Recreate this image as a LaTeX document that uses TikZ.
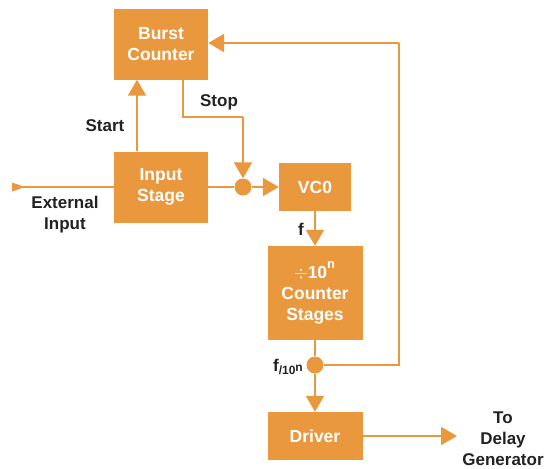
\documentclass[tikz,border=0pt]{standalone}
\usepackage{fontspec}
\setmainfont{Liberation Sans}
\usetikzlibrary{arrows.meta}
\definecolor{org}{HTML}{EA983E}
\definecolor{txt}{HTML}{222222}
\begin{document}
\begin{tikzpicture}[x=1pt,y=-1pt,
  blk/.style={fill=org,draw=none,text=white,font=\fontsize{17.5}{21}\selectfont\bfseries,align=center,inner sep=0pt},
  lbl/.style={text=txt,font=\fontsize{17}{21}\selectfont\bfseries,align=center,inner sep=0pt},
  wire/.style={draw=org,line width=2pt},
  arr/.style={wire,-{Triangle[length=16pt,width=18pt]}},
  dot/.style={circle,fill=org,minimum size=17pt,inner sep=0pt}]
\useasboundingbox (0,0) rectangle (555,469);
\node[blk,minimum width=94pt,minimum height=71pt] (burst) at (161,44) {Burst\\Counter};
\node[blk,minimum width=94pt,minimum height=71pt] (input) at (161,187) {Input\\Stage};
\node[blk,minimum width=72pt,minimum height=48pt] (vco) at (315,187) {VC0};
\node[blk,minimum width=95pt,minimum height=94pt] (cnt) at (315,293) {$\div$10$^{\raisebox{4pt}{\fontsize{13}{13}\selectfont n}}$\\Counter\\Stages};
\node[blk,minimum width=95pt,minimum height=48pt] (drv) at (315,436) {Driver};
\node[dot] (j1) at (243,187) {};
\node[dot] (j2) at (315,365) {};
\coordinate (ext) at (13,187);
\coordinate (c1) at (183,117);
\coordinate (c2) at (243,117);
\coordinate (c3) at (399,365);
\coordinate (c4) at (399,43);
\coordinate (out) at (457,436);
% external input
\draw[wire] (ext) -- (input.west);
\fill[org] (12,182.5) -- (25,187) -- (12,191.5) -- cycle;
% start
\draw[arr] (input.north -| 137,0) -- (burst.south -| 137,0);
% stop
\draw[wire] (burst.south -| c1) -- (c1) -- (c2);
\draw[arr] (c2) -- (j1.north);
% input stage to vco
\draw[wire] (input.east) -- (j1);
\draw[arr] (j1) -- (vco.west);
\draw[arr] (vco.south) -- (cnt.north);
\draw[wire] (cnt.south) -- (j2);
\draw[arr] (j2) -- (drv.north);
\draw[wire] (j2) -- (c3) -- (c4);
\draw[arr] (c4) -- (burst.east |- c4);
\draw[arr] (drv.east) -- (out);
% labels
\node[lbl] (lstart) at (105,126) {Start};
\node[lbl] (lstop) at (219,102) {Stop};
\node[lbl] (lext) at (65,215) {External\\Input};
\node[lbl] (lf) at (301,229) {f};
\node[lbl,anchor=east] (lfn) at (303,367) {f\raisebox{-3pt}{\fontsize{12}{12}\selectfont/10}\raisebox{0pt}{\fontsize{12}{12}\selectfont n}};
\node[lbl] (lto) at (503,439) {To\\Delay\\Generator};
\end{tikzpicture}
\end{document}
